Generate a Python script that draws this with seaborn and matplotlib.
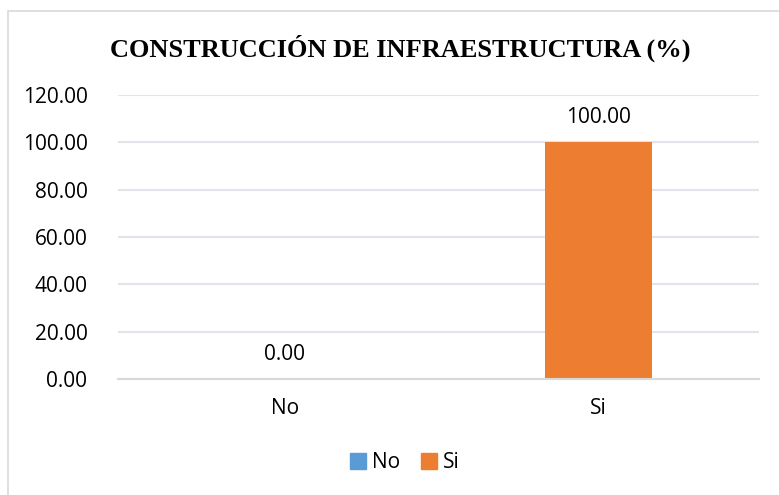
import pandas as pd
import matplotlib.pyplot as plt
import seaborn as sns
from matplotlib.patches import Rectangle, Patch

categorias = ["No", "Si"]
valores = [0.00, 100.00]
colores = ["#5B9BD5", "#ED7D31"]
titulo = "CONSTRUCCIÓN DE INFRAESTRUCTURA (%)"

sns.set_style("white")
plt.rcParams['font.family'] = ['Open Sans', 'DejaVu Sans']
plt.rcParams['text.color'] = 'black'
plt.rcParams['xtick.color'] = 'black'
plt.rcParams['ytick.color'] = 'black'

df = pd.DataFrame({"Respuesta": categorias, "Porcentaje": valores})

fig = plt.figure(figsize=(7.79, 4.95), dpi=100)
ax = fig.add_axes([0.1515, 0.2343, 0.8225, 0.5737])
sns.barplot(data=df, x="Respuesta", y="Porcentaje", hue="Respuesta",
            palette=colores, dodge=False, width=0.34, legend=False,
            saturation=1, linewidth=0, ax=ax)

ax.set_ylim(0, 120)
ax.set_yticks(range(0, 121, 20))
ax.set_yticklabels([f"{v:.2f}" for v in range(0, 121, 20)], fontsize=15)
ax.set_xlim(-0.532, 1.51)
ax.tick_params(axis='x', length=0, labelsize=15, pad=14)
ax.tick_params(axis='y', length=0, pad=22)
ax.set_xticks([-0.532, 0.5, 1.51], minor=True)
ax.tick_params(axis='x', which='minor', length=5, color='#D9D9D9', width=1.2)
ax.set_xlabel("")
ax.set_ylabel("")
ax.yaxis.grid(True, color='#E1E5EB', linewidth=1.5)
ax.set_axisbelow(True)
for s in ['top', 'right', 'left']:
    ax.spines[s].set_visible(False)
ax.spines['bottom'].set_color('#D9D9D9')
ax.spines['bottom'].set_linewidth(1.5)

for i, v in enumerate(valores):
    ax.annotate(f"{v:.2f}", (i, v), xytext=(0, 18), textcoords='offset points',
                ha='center', va='center', fontsize=15)

fig.text(0.514, 0.902, titulo, ha='center', va='center', fontsize=19,
         fontweight='bold', family=['Liberation Serif', 'DejaVu Serif'])

handles = [Patch(color=c, label=l) for c, l in zip(colores, categorias)]
fig.legend(handles=handles, loc='center', bbox_to_anchor=(0.52, 0.065), ncol=2,
           frameon=False, fontsize=15, handlelength=0.75, handleheight=0.75,
           handletextpad=0.3, columnspacing=1.0)

fig.patches.append(Rectangle((8 / 779, -0.1), 1.2, 1.0 - 11 / 495 + 0.1,
                             transform=fig.transFigure, fill=False,
                             edgecolor='#D9D9D9', linewidth=1.2))

fig.savefig("out.png", dpi=100)
